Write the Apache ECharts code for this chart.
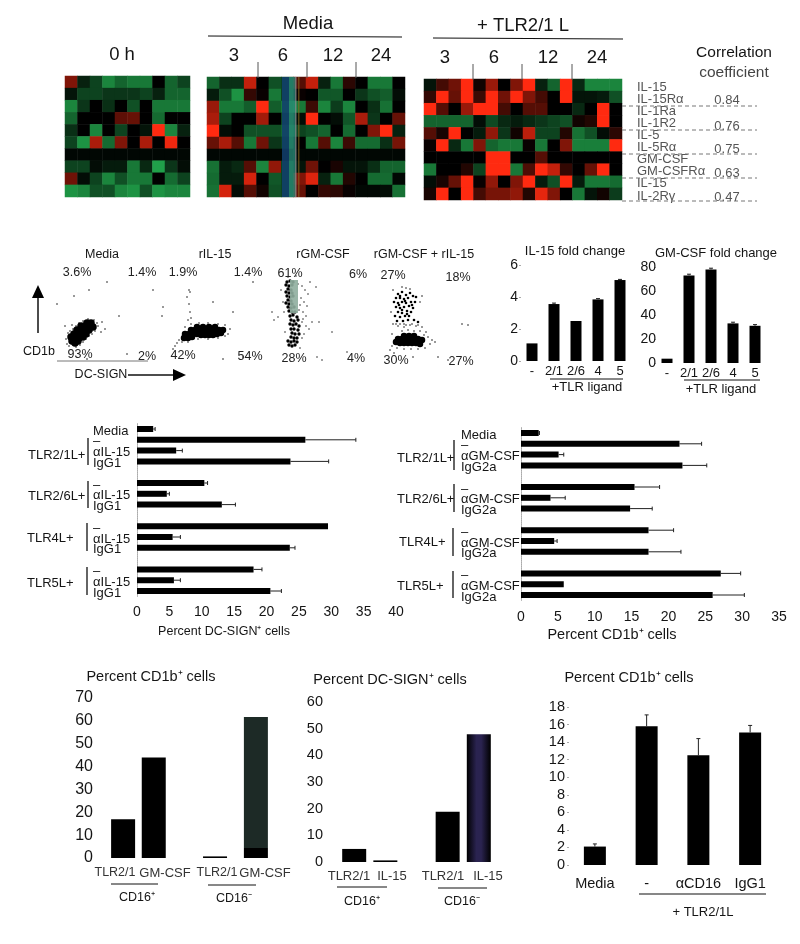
<!DOCTYPE html>
<html>
<head>
<meta charset="utf-8">
<style>
  html, body { margin: 0; padding: 0; background: #fff; }
  #chart { width: 800px; height: 944px; }
</style>
<script src="https://cdn.jsdelivr.net/npm/echarts@6/dist/echarts.min.js"></script>
</head>
<body>
<div id="chart"></div>
<script>
// heat maps, rows top to bottom, negative = green, positive = red
const zeroHourRows = [
  [1.5,-0.5,-1,-2,-1.5,-1.8,-1.8,0,-1.5,-1],
  [-0.3,-1,-1,-0.8,-0.8,-0.8,-1,-0.5,-1.5,-1.5],
  [-2,-0.8,0,-0.7,0,-1.2,0,-1.8,-1.8,-1.8],
  [-1.5,0,0,0,1.1,1.2,0,-1.6,0,0],
  [-0.7,0,-2,0,-1,0,-0.3,3,-2,-0.5],
  [-1,-2.2,2,-1.6,1.5,0,2,0,2.8,0],
  [-0.1,-0.1,-0.1,-0.1,-0.1,-0.1,-0.1,-0.1,-0.1,-0.1],
  [-1,-1,-0.2,-0.4,-0.4,-1.8,-0.6,-2.4,-0.8,-0.2],
  [1.3,-0.2,-1,-2,-1.2,-1.8,-1.8,0,-1.6,-1],
  [-2.2,-2,-1.2,-1.2,-2,-2.2,-1.2,-2.2,-2,-2]
];
const mediaRows = [
  [-1.5,-0.7,-0.7,2.3,0,-1.2,-1,1,2.3,-0.5,-1.8,0.5,0,-1.8,-1.8,0],
  [-0.4,-1.2,-2.2,0.6,0.1,-1.8,-1,0.1,0,-1.3,-1.3,0,-0.8,-1.2,-1.4,-0.2],
  [1.8,-1.8,-1.8,-1.4,3,-1.4,-1.8,-1.8,0.7,-2,-0.9,-2,0,-0.7,-1.7,0],
  [2,-1,0,0,1.9,0,-1,-0.2,3,0,-0.2,-1.3,2,-0.8,0,1.2],
  [3,-0.2,0,-1.2,-1.2,-1.2,-1.5,-1,-1.2,-1.5,0,-1.6,0,1.5,3,-0.5],
  [1.2,2,1,-1.8,1.3,-0.8,-1,0,-1.8,1,-2,0.7,-1.6,-1.6,-0.7,1.4],
  [-0.1,-0.1,-0.1,-0.1,-0.1,-0.1,-0.1,-0.1,-0.1,-0.1,-0.1,-0.1,-0.1,-0.1,-0.1,-0.1],
  [-1.7,-0.4,-0.6,1,-2,1.7,-1,-0.3,1.3,0,0.3,-0.3,-0.3,-0.7,-1.5,-1.5],
  [-1.6,-0.4,-0.4,2.5,0,-1.3,-1,1.5,2.6,-0.5,-1.8,0.4,0,-1.6,-1.6,-0.1],
  [-1.7,2.5,-0.2,1,0.2,-1.2,-1,1.2,0,0.6,0.5,0.1,-0.1,-0.1,-0.2,-1.7]
];
const tlrRows = [
  [-0.3,0.8,1.3,3,0.2,1.8,0,1.5,3,-0.5,-1.5,3,-0.6,-2,-2,-2],
  [0.6,3,1.2,3,0.7,3,1.3,3,1.5,0.8,0,3,-0.3,-0.3,-0.4,-1.2],
  [3,1,0,1.8,3,3,0.8,0,1,1,0,0,-0.6,0,3,0],
  [-1.5,-1.5,-1.5,-1.5,-0.2,-1.1,-0.6,-0.4,-0.6,-0.8,-1,-1.2,0.2,0.4,3,0],
  [1,0.3,3,0,-0.4,1.7,-0.8,0.2,2.2,-1,-1,0.4,-1.7,-1.2,-0.2,0.5],
  [0.1,3,-0.6,-1.8,1.5,-1.5,-1.8,-1.8,0.1,-1.8,0,1.5,-1.9,-1.9,-1.9,3],
  [0,0,0,0,0,3,3,0,0,1,0,0,0,0,0,0],
  [-1.8,0,0,0.4,-1,3,3,-1.8,0.9,3,2.3,0.6,0,1.2,3,0],
  [-0.2,0.3,1.2,3,0.1,1.7,0,1.5,3,-0.4,-1.2,3,-0.4,-1.8,-1.8,-1.6],
  [0.3,3,0,3,0.8,1.4,1.4,1.7,0.4,2.7,1.5,0,-1.8,-0.3,0.2,-0.9]
];
const geneLabels = ["IL-15","IL-15Rα","IL-1Ra","IL-1R2","IL-5","IL-5Rα","GM-CSF","GM-CSFRα","IL-15","IL-2Rγ"];
const correlationLabels = ["0.84","0.76","0.75","0.63","0.47"];

const mediaDense = [[15,21],[18,19],[21,21],[14,25],[18,24],[22,24],[26,25],[17,28],[21,28],[25,28],[29,28],[20,32],[24,32],[28,32],[32,32],[24,36],[28,36],[32,36],[36,35],[30,39],[34,39]];
const mediaSparse = [[10,18],[12,16],[11,29],[13,31],[16,33],[19,36],[22,39],[26,41],[31,43],[37,42],[40,39],[41,36],[38,31],[35,28],[32,26],[29,23],[26,20],[23,17],[19,15],[9,23],[45,40],[48,33],[15,37],[44,30],[8,36],[32,72],[0,58],[17,66],[62,46],[50,80],[96,72],[30,3],[70,8]];
const il15Dense = [[21,24],[25,24],[29,25],[22,28],[26,28],[30,28],[34,28],[38,27],[42,27],[46,27],[50,27],[54,28],[58,29],[28,32],[32,32],[36,32],[40,32],[44,32],[48,32],[52,32],[56,32],[60,32],[34,35],[40,35],[46,35],[52,35]];
const il15Sparse = [[16,22],[14,19],[12,16],[10,13],[19,20],[25,20],[35,23],[45,23],[55,24],[62,26],[65,28],[67,33],[62,37],[55,38],[45,39],[36,39],[28,38],[22,35],[25,42],[28,44],[27,50],[26,58],[24,65],[27,70],[26,72],[0,55],[-1,46],[50,60],[70,50],[90,80],[80,5],[60,3]];
const gmDense = [[15,80],[18,81],[21,80],[14,77],[17,76],[20,77],[16,73],[19,72],[14,70],[17,69],[20,69],[15,66],[18,65],[21,66],[16,62],[19,61],[14,59],[17,58],[20,58],[16,55],[19,54],[22,55],[17,51],[20,50],[23,50],[18,46],[21,47],[25,45],[19,42],[22,41],[26,42],[18,38],[21,37],[24,38],[27,36],[19,33],[22,33],[26,32],[20,29],[23,28],[27,28],[19,25],[22,24],[25,24],[16,21],[19,20],[22,21],[25,20],[17,17],[20,16],[23,17]];
const gmSparse = [[26,78],[30,76],[33,72],[36,68],[29,64],[32,60],[35,56],[28,57],[31,50],[34,46],[30,40],[34,36],[37,33],[32,28],[30,24],[11,60],[12,50],[13,30],[9,72],[6,45],[2,42],[0,50],[40,40],[47,40],[44,75],[38,80],[60,30],[75,10],[50,2],[45,5],[24,86],[16,85],[28,14],[31,43],[27,52]];
const comboDense = [[18,20],[22,19],[26,19],[30,19],[34,19],[38,19],[42,18],[20,23],[24,23],[28,23],[32,23],[36,23],[40,23],[44,22],[26,26],[31,26],[36,26]];
const comboUpper = [[20,68],[24,70],[28,67],[32,69],[18,64],[22,64],[26,63],[30,64],[35,66],[38,65],[16,60],[20,59],[24,60],[28,59],[33,60],[37,60],[18,55],[22,54],[26,55],[31,56],[35,54],[20,50],[24,49],[29,51],[33,50],[17,46],[22,45],[27,46],[31,46],[19,41],[25,41],[30,42],[36,42],[40,40],[22,66],[27,61],[24,52],[29,48],[21,57],[34,57]];
const comboSparse = [[20,36],[26,35],[32,37],[38,36],[44,35],[24,31],[30,32],[36,31],[42,31],[48,30],[14,28],[46,27],[50,25],[54,22],[57,20],[52,18],[47,14],[40,13],[33,13],[26,13],[19,14],[14,16],[12,12],[16,9],[15,38],[18,38],[22,38],[26,38],[28,37],[34,38],[40,37],[42,60],[44,66],[28,74],[24,75],[32,73],[13,50],[15,72],[84,38],[90,37],[60,5],[70,2],[35,5]];

// small fold change bars
const tlrLigands = ["-","2/1","2/6","4","5"];
const il15Fold = [1.1,3.56,2.5,3.85,5.06];
const il15FoldTop = [1.1,3.62,2.5,3.9,5.1];
const gmFold = [3.6,73,78,33,31];
const gmFoldTop = [3.6,74,79,34,32];

// blocking bars, null keeps the gap between groups
const dcSignLabels = ["Media","–","αIL-15","IgG1","","–","αIL-15","IgG1","","–","αIL-15","IgG1","","–","αIL-15","IgG1"];
const dcSignValues = [2.5,26,6.05,23.7,null,10.4,4.6,13.1,null,29.5,5.5,23.6,null,18,5.7,20.6];
const dcSignTop = [2.8,33.8,7,29.6,null,10.9,5,15.2,null,29.5,6.7,24.4,null,19.3,6.7,22.3];
const cd1bLabels = ["Media","–","αGM-CSF","IgG2a","","–","αGM-CSF","IgG2a","","–","αGM-CSF","IgG2a","","–","αGM-CSF","IgG2a"];
const cd1bValues = [2.4,21.5,5.1,21.9,null,15.4,4,14.8,null,17.3,4.5,17.3,null,27.1,5.8,26];
const cd1bTop = [2.5,24.5,5.8,25.2,null,18.8,6,17.8,null,20.7,4.9,21.7,null,29.8,5.8,30.3];

// bottom row, blank slots leave the spacing between the bars
const cd16SlotsA = ["a","","","b","","","","","","c","","","","d"];
const cd16ValuesA = [17,null,null,44,null,null,null,null,null,0.7,null,null,null,61.7];
const cd16SlotsB = ["a","","","b","","","","","","c","","","d"];
const cd16ValuesB = [4.9,null,null,0.6,null,null,null,null,null,18.8,null,null,47.9];
const antibodyLabels = ["Media","-","αCD16","IgG1"];
const antibodyValues = [2.1,15.8,12.5,15.1];
const antibodyTop = [2.4,17.1,14.4,15.9];

const FONT = '"Liberation Sans", Arial, sans-serif';
const grids = [], xAxes = [], yAxes = [], series = [], graphics = [];

function addGrid(left, top, width, height, xAxis, yAxis) {
  const index = grids.length;
  grids.push({ left, top, width, height });
  xAxes.push(Object.assign({ gridIndex: index }, xAxis));
  yAxes.push(Object.assign({ gridIndex: index }, yAxis));
  return index;
}

function text(x, y, str, size, opts) {
  const o = opts || {};
  graphics.push({
    type: "text", x, y, z: 100, silent: true,
    style: {
      text: str,
      fill: o.fill || "#151515",
      font: (o.weight ? o.weight + " " : "") + size + "px " + FONT,
      textAlign: o.align || "center",
      textVerticalAlign: "middle"
    }
  });
}

function line(x1, y1, x2, y2, opts) {
  const o = opts || {};
  graphics.push({
    type: "line", z: 100, silent: true,
    shape: { x1, y1, x2, y2 },
    style: { stroke: o.stroke || "#111", lineWidth: o.width || 1, lineDash: o.dash || null }
  });
}

function rect(x, y, width, height, fill, opacity) {
  graphics.push({
    type: "rect", z: 100, silent: true,
    shape: { x, y, width, height },
    style: { fill, opacity: opacity === undefined ? 1 : opacity }
  });
}

function triangle(points) {
  graphics.push({
    type: "polygon", z: 100, silent: true,
    shape: { points },
    style: { fill: "#000" }
  });
}

// row labels sit a little below their row in the original
function loweredLabel(color, fontSize, margin, align) {
  return {
    margin, interval: 0, hideOverlap: false, align,
    formatter: value => (value === "" ? "" : "{a|" + value + "}"),
    rich: { a: { color, fontFamily: FONT, fontSize, padding: [4, 0, 0, 0] } }
  };
}

const hiddenAxis = { show: false };

// ---------- heat maps
const heatIndexes = [];
function addHeat(rows, left, top, width, height, rightLabels) {
  const cols = rows[0].map((_, i) => i);
  const idx = addGrid(left, top, width, height,
    { type: "category", data: cols, show: false },
    rightLabels
      ? {
          type: "category", inverse: true, position: "right",
          data: rightLabels,
          axisLine: { show: false }, axisTick: { show: false },
          axisLabel: loweredLabel("#555", 13, 15, "left")
        }
      : { type: "category", inverse: true, data: rows.map((_, i) => i), show: false }
  );
  const data = [];
  rows.forEach((row, r) => row.forEach((v, c) => data.push([c, r, v])));
  heatIndexes.push(series.length);
  series.push({ type: "heatmap", xAxisIndex: idx, yAxisIndex: idx, data, silent: true, progressive: 0 });
}
addHeat(zeroHourRows, 65, 76, 125, 121);
addHeat(mediaRows, 207, 77, 198, 120);
addHeat(tlrRows, 424, 79, 198, 121, geneLabels);

// scan streak through the Media block
rect(282, 77, 7, 120, "#123f70", 0.85);
rect(289, 77, 6, 120, "#2a8f7c", 0.75);
rect(295, 77, 1.5, 120, "#7f8f90", 0.8);
rect(298, 77, 1.5, 120, "#8a6a20", 0.6);

text(122, 55, "0 h", 18.5);
text(308, 24, "Media", 18.5);
line(208, 36, 402, 37, { width: 1.2 });
[["3", 234], ["6", 283], ["12", 333], ["24", 381]].forEach(d => text(d[1], 56, d[0], 18.5));
[258, 307, 356].forEach(x => line(x, 62, x, 78, { stroke: "#555" }));

text(523, 26, "+ TLR2/1 L", 18.5);
line(433, 38, 623, 39, { width: 1.2 });
[["3", 445], ["6", 494], ["12", 548], ["24", 597]].forEach(d => text(d[1], 58, d[0], 18.5));
[473, 522, 572].forEach(x => line(x, 64, x, 80, { stroke: "#555" }));

text(734, 53, "Correlation", 15.5);
text(734, 73, "coefficient", 15.5, { fill: "#444" });
[[100, 106], [126, 130], [149, 154], [173, 178], [197, 201]].forEach((d, i) => {
  text(727, d[0], correlationLabels[i], 13, { fill: "#555" });
  line(622, d[1], 757, d[1], { stroke: "#777", dash: [4, 3] });
});

// ---------- flow plots
function addFlow(left, layers) {
  const idx = addGrid(left, 262, 100, 100,
    Object.assign({ type: "value", min: 0, max: 100 }, hiddenAxis),
    Object.assign({ type: "value", min: 0, max: 100 }, hiddenAxis));
  layers.forEach(layer => {
    series.push({
      type: "scatter", xAxisIndex: idx, yAxisIndex: idx, silent: true,
      data: layer.points, symbolSize: layer.size, itemStyle: { color: "#000", opacity: 1 }, clip: false
    });
  });
}
addFlow(57, [{ points: mediaDense, size: 7.5 }, { points: mediaSparse, size: 1.5 }]);
addFlow(163, [{ points: il15Dense, size: 6.5 }, { points: il15Sparse, size: 1.5 }]);
addFlow(272, [{ points: gmDense, size: 3.4 }, { points: gmSparse, size: 1.4 }]);
addFlow(378, [{ points: comboDense, size: 6.5 }, { points: comboUpper, size: 2.6 }, { points: comboSparse, size: 1.5 }]);

rect(290, 280, 8, 33, "#8fae9f", 0.9);

[["Media", 102], ["rIL-15", 215], ["rGM-CSF", 323], ["rGM-CSF + rIL-15", 424]].forEach(d => text(d[1], 255, d[0], 12.5));
[["3.6%",77,273],["1.4%",142,273],["1.9%",183,273],["1.4%",248,273],["61%",290,274],["6%",358,275],["27%",393,276],["18%",458,278],
 ["93%",80,355],["2%",147,357],["42%",183,356],["54%",250,357],["28%",294,359],["4%",356,359],["30%",396,361],["27%",461,362]]
  .forEach(d => text(d[1], d[2], d[0], 12.5, { fill: "#222" }));
text(39, 352, "CD1b", 12.5);
text(101, 375, "DC-SIGN", 12.5);
line(38, 333, 38, 295, { width: 1.5 });
triangle([[38, 285], [32, 298], [44, 298]]);
line(128, 375, 175, 375, { width: 1.5 });
triangle([[186, 375], [173, 369], [173, 381]]);
line(57, 361, 148, 361, { stroke: "#777" });

// ---------- fold change bars
function errorSeries(idx, values, tops, horizontal) {
  return {
    type: "custom", xAxisIndex: idx, yAxisIndex: idx, silent: true, z: 3, clip: false,
    data: values.map((v, i) => [i, v, tops[i]]).filter(d => d[1] !== null && d[2] > d[1]),
    encode: horizontal ? { x: [1, 2], y: 0 } : { x: 0, y: [1, 2] },
    renderItem(params, api) {
      const cat = api.value(0);
      const from = horizontal ? api.coord([api.value(1), cat]) : api.coord([cat, api.value(1)]);
      const to = horizontal ? api.coord([api.value(2), cat]) : api.coord([cat, api.value(2)]);
      const style = { stroke: "#222", lineWidth: 1 };
      const cap = horizontal
        ? { x1: to[0], y1: to[1] - 2, x2: to[0], y2: to[1] + 2 }
        : { x1: to[0] - 2, y1: to[1], x2: to[0] + 2, y2: to[1] };
      return {
        type: "group",
        children: [
          { type: "line", shape: { x1: from[0], y1: from[1], x2: to[0], y2: to[1] }, style },
          { type: "line", shape: cap, style }
        ]
      };
    }
  };
}

function valueAxis(min, max, interval, fontSize, margin) {
  return {
    type: "value", min, max, interval,
    splitLine: { show: false },
    axisLine: { show: false },
    axisTick: { show: true, length: 2, lineStyle: { color: "#aaa" } },
    axisLabel: { color: "#151515", fontFamily: FONT, fontSize, margin: margin === undefined ? 6 : margin }
  };
}

function catAxis(labels, fontSize, margin) {
  return {
    type: "category", data: labels,
    axisLine: { show: false }, axisTick: { show: false },
    axisLabel: { color: "#151515", fontFamily: FONT, fontSize, margin, interval: 0, hideOverlap: false }
  };
}

function addFold(left, top, height, values, tops, max, interval, margin) {
  const idx = addGrid(left, top, 110, height, catAxis(tlrLigands, 13, 4), valueAxis(0, max, interval, 14, margin));
  series.push({ type: "bar", xAxisIndex: idx, yAxisIndex: idx, data: values, barWidth: 11, silent: true, itemStyle: { color: "#000" } });
  series.push(errorSeries(idx, values, tops, false));
}
addFold(521, 265, 96, il15Fold, il15FoldTop, 6, 2, 3);
addFold(656, 267, 96, gmFold, gmFoldTop, 80, 20, 0);

text(575, 251, "IL-15 fold change", 13);
text(716, 253, "GM-CSF fold change", 13);
line(550, 379, 623, 379);
line(684, 380, 760, 380);
text(587, 387, "+TLR ligand", 13);
text(721, 389, "+TLR ligand", 13);

// ---------- blocking bars
function addBlock(left, top, width, max, labels, values, tops, labelMargin, tickMargin) {
  const yAxis = catAxis(labels, 13, labelMargin);
  yAxis.inverse = true;
  yAxis.axisLine = { show: true, lineStyle: { color: "#aaa", type: "dotted" } };
  yAxis.axisLabel = loweredLabel("#151515", 13, labelMargin, "left");
  const xAxis = valueAxis(0, max, 5, 14);
  xAxis.axisLabel.margin = tickMargin;
  xAxis.axisTick.show = false;
  const idx = addGrid(left, top, width, 172.8, xAxis, yAxis);
  series.push({ type: "bar", xAxisIndex: idx, yAxisIndex: idx, data: values, barWidth: 6, silent: true, itemStyle: { color: "#000" } });
  series.push(errorSeries(idx, values, tops, true));
}
addBlock(137, 423.6, 259, 40, dcSignLabels, dcSignValues, dcSignTop, 44, 9);
addBlock(521, 427.6, 258, 35, cd1bLabels, cd1bValues, cd1bTop, 60, 10);

[["TLR2/1L+", 28, 455], ["TLR2/6L+", 28, 496], ["TLR4L+", 27, 538], ["TLR5L+", 27, 583]]
  .forEach(d => text(d[1], d[2], d[0], 13, { align: "left" }));
[[88, 438, 465], [88, 481, 508], [87, 523, 551], [87, 567, 595]].forEach(d => line(d[0], d[1], d[0], d[2], { width: 1.3 }));
[["TLR2/1L+", 397, 458], ["TLR2/6L+", 397, 499], ["TLR4L+", 399, 542], ["TLR5L+", 397, 586]]
  .forEach(d => text(d[1], d[2], d[0], 13, { align: "left" }));
[[454, 440, 470], [454, 484, 512], [453, 528, 556], [453, 571, 598]].forEach(d => line(d[0], d[1], d[0], d[2], { width: 1.3 }));
text(224, 632, "Percent DC-SIGN⁺ cells", 12.5);
text(612, 635, "Percent CD1b⁺ cells", 14.5);

// ---------- bottom row
function addSlotBars(left, top, width, height, slots, values, max, interval, fontSize, barWidth, lastColor, margin) {
  const xAxis = catAxis(slots, 12, 4);
  xAxis.axisLabel.show = false;
  const yAxis = valueAxis(0, max, interval, fontSize, margin);
  yAxis.axisTick.show = false;
  const idx = addGrid(left, top, width, height, xAxis, yAxis);
  const data = values.map((v, i) => i === values.length - 1 ? { value: v, itemStyle: { color: lastColor } } : v);
  series.push({ type: "bar", xAxisIndex: idx, yAxisIndex: idx, data, barWidth, silent: true, clip: false, itemStyle: { color: "#000" } });
}
const greenBlack = { type: "linear", x: 0, y: 0, x2: 0, y2: 1, colorStops: [
  { offset: 0, color: "#1d2a26" }, { offset: 0.93, color: "#1d2a26" }, { offset: 0.93, color: "#000" }, { offset: 1, color: "#000" }] };
const indigoBlack = { type: "linear", x: 0, y: 0, x2: 1, y2: 0, colorStops: [
  { offset: 0, color: "#000" }, { offset: 0.4, color: "#2a2350" }, { offset: 0.6, color: "#2a2350" }, { offset: 1, color: "#000" }] };

addSlotBars(118, 698, 143, 160, cd16SlotsA, cd16ValuesA, 70, 10, 16, 24, greenBlack, 25);
addSlotBars(349, 702, 135, 160, cd16SlotsB, cd16ValuesB, 60, 10, 14.5, 24, indigoBlack, 26);

const antibodyIdx = addGrid(569, 707, 207, 158, catAxis(antibodyLabels, 14.5, 11), valueAxis(0, 18, 2, 14.5, 4));
series.push({ type: "bar", xAxisIndex: antibodyIdx, yAxisIndex: antibodyIdx, data: antibodyValues, barWidth: 22, silent: true, itemStyle: { color: "#000" } });
series.push(errorSeries(antibodyIdx, antibodyValues, antibodyTop, false));

text(151, 677, "Percent CD1b⁺ cells", 14.5);
[["TLR2/1", 115, 12.5], ["GM-CSF", 165, 13], ["TLR2/1", 217, 12.5], ["GM-CSF", 265, 13]].forEach(d => text(d[1], 873, d[0], d[2], { fill: "#333" }));
line(111, 884, 158, 884);
line(208, 885, 256, 885);
text(137, 898, "CD16⁺", 12.5);
text(234, 899, "CD16⁻", 12.5);

text(390, 680, "Percent DC-SIGN⁺ cells", 14.5);
[["TLR2/1", 349], ["IL-15", 392], ["TLR2/1", 443], ["IL-15", 488]].forEach(d => text(d[1], 876, d[0], 13, { fill: "#333" }));
line(337, 887, 387, 887);
line(438, 888, 487, 888);
text(362, 902, "CD16⁺", 12.5);
text(462, 902, "CD16⁻", 12.5);

text(629, 678, "Percent CD1b⁺ cells", 14.5);
line(639, 894, 766, 894, { width: 1.2 });
text(703, 912, "+ TLR2/1L", 13);

const chart = echarts.init(document.getElementById("chart"), null, { renderer: "canvas" });
chart.setOption({
  backgroundColor: "#fff",
  animation: false,
  grid: grids,
  xAxis: xAxes,
  yAxis: yAxes,
  visualMap: {
    show: false, min: -3, max: 3, seriesIndex: heatIndexes, calculable: false,
    inRange: { color: ["#28c85c", "#000000", "#ff2a10"] }
  },
  series,
  graphic: { elements: graphics }
});
</script>
</body>
</html>
